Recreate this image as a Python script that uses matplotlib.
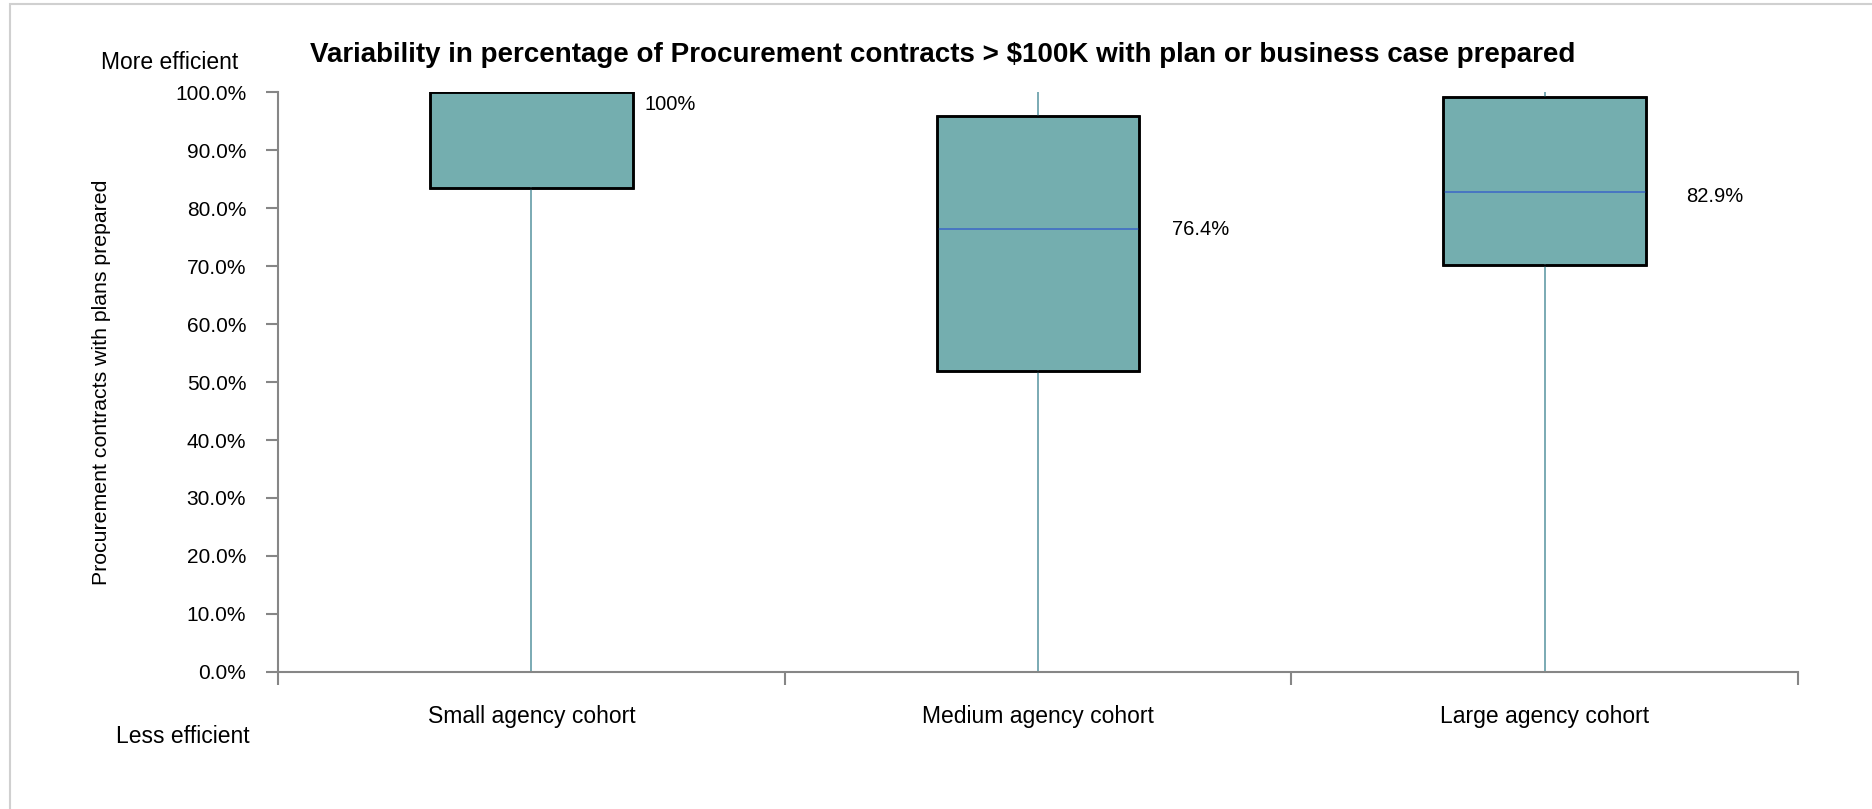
import matplotlib
matplotlib.use('Agg')

import matplotlib.pyplot as plt
from matplotlib.patches import Rectangle, PathPatch
from matplotlib.ticker import FuncFormatter

plt.rcParams['font.family'] = ['Liberation Sans', 'DejaVu Sans']

cohorts = ['Small agency cohort', 'Medium agency cohort', 'Large agency cohort']
minimum = [0.0, 0.0, 0.0]
lower_q = [83.5, 52.0, 70.2]
median = [100.0, 76.4, 82.9]
upper_q = [100.0, 95.9, 99.2]
maximum = [100.0, 100.0, 100.0]
median_labels = ['100%', '76.4%', '82.9%']

TEAL = '#74aeaf'
WHISKER = '#6fa4ae'
MEDIAN = '#4472c4'
AXIS = '#868686'

fig = plt.figure(figsize=(18.72, 8.09), dpi=100)
fig.patches.append(Rectangle((0.0055, -0.1), 1.1, 1.095, transform=fig.transFigure,
                             fill=False, edgecolor='#d0d0d0', lw=1.5))
ax = fig.add_axes([0.1486, 0.1697, 0.8119, 0.716])

stats = []
for i in range(len(cohorts)):
    stats.append({'med': median[i], 'q1': lower_q[i], 'q3': upper_q[i],
                  'whislo': minimum[i], 'whishi': maximum[i], 'fliers': []})

parts = ax.bxp(stats, positions=range(len(cohorts)), widths=0.4, patch_artist=True,
               showcaps=False, showfliers=False,
               boxprops=dict(facecolor=TEAL, edgecolor='black', lw=1.8),
               whiskerprops=dict(color=WHISKER, lw=1.3),
               medianprops=dict(color=MEDIAN, lw=1.3))

# black outline on top so a median sitting on the box edge doesn't show through
for b in parts['boxes']:
    ax.add_patch(PathPatch(b.get_path(), fill=False, edgecolor='black', lw=1.8, zorder=3))

label_dx = [0.224, 0.265, 0.279]
label_dy = [-0.5, 0.0, -0.8]
label_va = ['top', 'center', 'center']
for i, txt in enumerate(median_labels):
    ax.text(i + label_dx[i], median[i] + label_dy[i], txt, fontsize=14.5,
            va=label_va[i], ha='left')

ax.set_xlim(-0.5, 2.5)
ax.set_ylim(0, 100)
ax.set_yticks(range(0, 101, 10))
ax.yaxis.set_major_formatter(FuncFormatter(lambda v, p: f'{v:.1f}%'))
ax.set_xticks([-0.5, 0.5, 1.5, 2.5])
ax.set_xticklabels([])
ax.set_xticks(range(len(cohorts)), minor=True)
ax.set_xticklabels(cohorts, minor=True, fontsize=16.5)
ax.tick_params(axis='x', which='minor', length=0, pad=24)
ax.tick_params(axis='x', which='major', direction='out', length=9, color=AXIS, width=1.5)
ax.tick_params(axis='y', direction='out', length=9, color=AXIS, width=1.5,
               labelsize=15, pad=14)

for s in ['top', 'right']:
    ax.spines[s].set_visible(False)
for s in ['left', 'bottom']:
    ax.spines[s].set_color(AXIS)
    ax.spines[s].set_linewidth(1.5)

ax.set_ylabel('Procurement contracts with plans prepared', fontsize=15.3)
ax.yaxis.set_label_coords(-0.11, 0.5)

fig.text(0.0908, 0.923, 'More efficient', fontsize=16.5, ha='center', va='center')
fig.text(0.0976, 0.09, 'Less efficient', fontsize=16.5, ha='center', va='center')
fig.text(0.5036, 0.932,
         'Variability in percentage of Procurement contracts > $100K with plan or business case prepared',
         fontsize=20, fontweight='bold', ha='center', va='center')

fig.savefig('out.png', dpi=100)
